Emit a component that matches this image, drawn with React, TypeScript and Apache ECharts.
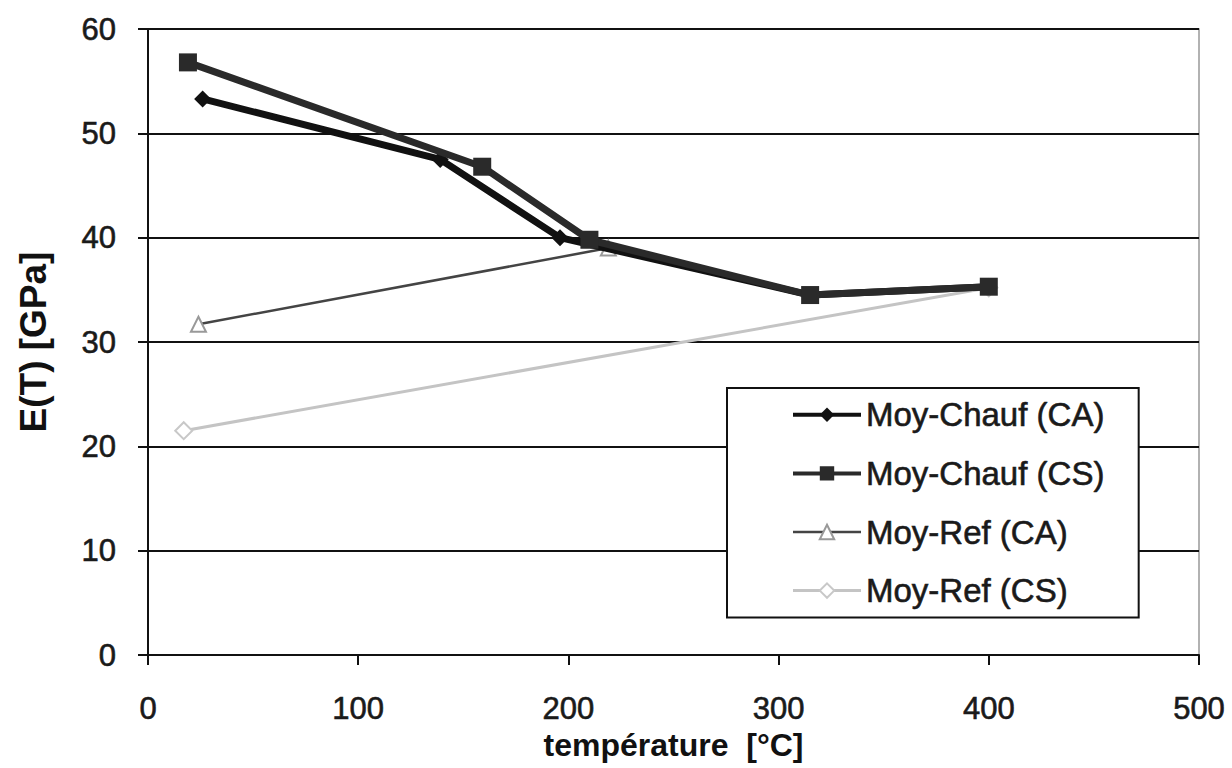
import React, { useEffect, useRef } from "react";
import * as echarts from "echarts";

const seriesNames = ["Moy-Chauf (CA)", "Moy-Chauf (CS)", "Moy-Ref (CA)", "Moy-Ref (CS)"];
const chaufCA: [number, number][] = [[26, 53.3], [139, 47.5], [196, 40.0], [315, 34.5], [400, 35.3]];
const chaufCS: [number, number][] = [[19, 56.8], [159, 46.8], [210, 39.8], [315, 34.5], [400, 35.3]];
const refCA: [number, number][] = [[24, 31.7], [219, 39.0]];
const refCS: [number, number][] = [[17, 21.5], [400, 35.2]];
const xTicks = [0, 100, 200, 300, 400, 500];
const yTicks = [0, 10, 20, 30, 40, 50, 60];

const FONT = "'Liberation Sans', Arial, sans-serif";
const legendLineWidths = [4, 4, 2.5, 3];

export default function App() {
  const ref = useRef<HTMLDivElement>(null);
  useEffect(() => {
    document.body.style.margin = "0";
    const chart = echarts.init(ref.current!, undefined, { renderer: "svg" });
    const heavy = { textBorderColor: "#1a1a1a", textBorderWidth: 0.6 };
    chart.setOption({
      animation: false,
      backgroundColor: "#fff",
      textStyle: { fontFamily: FONT },
      grid: {
        left: 148,
        right: 33,
        top: 29,
        bottom: 113,
        show: true,
        borderColor: "#999",
        borderWidth: 1.5,
      },
      legend: {
        orient: "vertical",
        left: 727,
        top: 388,
        padding: [10, 34, 10, 64],
        borderColor: "#111",
        borderWidth: 2,
        backgroundColor: "#fff",
        itemWidth: 68,
        itemHeight: 18,
        itemGap: 25,
        data: seriesNames.map((n, i) => ({ name: n, lineStyle: { width: legendLineWidths[i] } })),
        textStyle: { fontSize: 33, color: "#1a1a1a", fontFamily: FONT, ...heavy },
      },
      xAxis: {
        type: "value",
        min: xTicks[0],
        max: xTicks[xTicks.length - 1],
        interval: 100,
        name: "température  [°C]",
        nameLocation: "middle",
        nameGap: 58,
        nameTextStyle: { fontSize: 32, fontWeight: "bold", color: "#111", fontFamily: FONT },
        axisLine: { lineStyle: { color: "#111", width: 2 } },
        axisTick: { show: true, length: 10, lineStyle: { color: "#111", width: 2 } },
        axisLabel: { fontSize: 31, color: "#1a1a1a", margin: 38, fontFamily: FONT, ...heavy },
        splitLine: { show: false },
      },
      yAxis: {
        type: "value",
        min: yTicks[0],
        max: yTicks[yTicks.length - 1],
        interval: 10,
        name: "E(T) [GPa]",
        nameLocation: "middle",
        nameGap: 96,
        nameTextStyle: { fontSize: 37, fontWeight: "bold", color: "#111", fontFamily: FONT },
        axisLine: { show: true, lineStyle: { color: "#111", width: 2 } },
        axisTick: { show: true, length: 10, lineStyle: { color: "#111", width: 2 } },
        axisLabel: { fontSize: 31, color: "#1a1a1a", margin: 32, fontFamily: FONT, ...heavy },
        splitLine: { show: true, lineStyle: { color: "#111", width: 2 } },
      },
      series: [
        {
          name: seriesNames[0],
          type: "line",
          data: chaufCA,
          symbol: "diamond",
          symbolSize: 17,
          lineStyle: { color: "#111", width: 7 },
          itemStyle: { color: "#111" },
          z: 3,
        },
        {
          name: seriesNames[1],
          type: "line",
          data: chaufCS,
          symbol: "rect",
          symbolSize: 18,
          lineStyle: { color: "#2a2a2a", width: 7 },
          itemStyle: { color: "#2a2a2a" },
          z: 4,
        },
        {
          name: seriesNames[2],
          type: "line",
          data: refCA,
          symbol: "triangle",
          symbolSize: 15,
          lineStyle: { color: "#444", width: 2.5 },
          itemStyle: { color: "#fff", borderColor: "#999", borderWidth: 2 },
          z: 2,
        },
        {
          name: seriesNames[3],
          type: "line",
          data: refCS,
          symbol: "diamond",
          symbolSize: 17,
          lineStyle: { color: "#c4c4c4", width: 3 },
          itemStyle: { color: "#fff", borderColor: "#c8c8c8", borderWidth: 2 },
          z: 2,
        },
      ],
    });
    return () => chart.dispose();
  }, []);
  return <div ref={ref} style={{ width: 1232, height: 768 }} />;
}
